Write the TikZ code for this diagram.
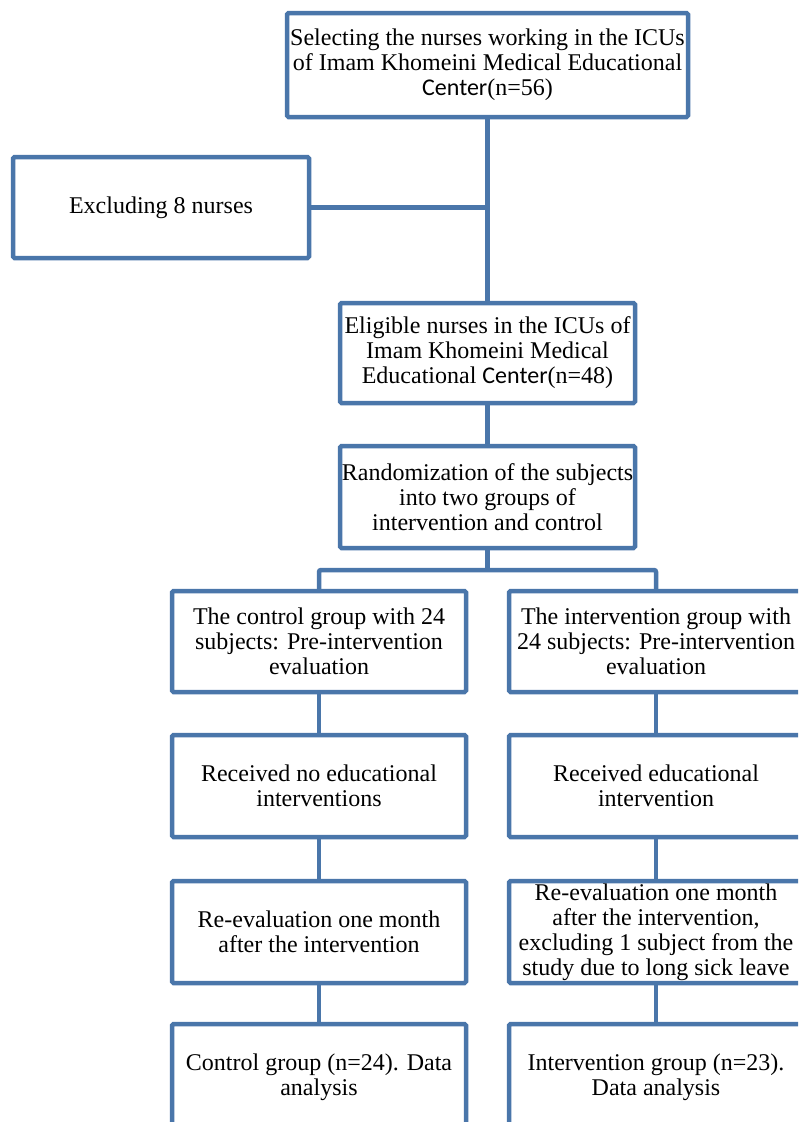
\documentclass[tikz,border=0pt]{standalone}
\usepackage{fontspec}
\setmainfont{Liberation Serif}
\newfontfamily\ctrfont{Carlito}
\definecolor{boxblue}{RGB}{74,118,170}
\begin{document}
\begin{tikzpicture}[x=1pt,y=-1pt,
  box/.style={draw=boxblue, line width=4.5pt, rounded corners=1.5pt, fill=white,
    inner sep=0pt, outer sep=0pt, align=center,
    font=\fontsize{24}{25}\selectfont},
  conn/.style={draw=boxblue, line width=4.5pt}]
\useasboundingbox (0,0) rectangle (798,1122);
\clip (0,0) rectangle (798,1122);
\fill[white] (0,0) rectangle (798,1122);

\node[box, minimum width=401pt, minimum height=104pt] (top) at (487.5,65)
  {Selecting the nurses working in the ICUs\\of Imam Khomeini Medical Educational\\{\ctrfont Center}(n=56)};
\node[box, minimum width=296pt, minimum height=101pt] (excl) at (161,207.5)
  {Excluding 8 nurses};
\node[box, minimum width=295pt, minimum height=100pt] (elig) at (487.5,353)
  {Eligible nurses in the ICUs of\\Imam Khomeini Medical\\Educational {\ctrfont Center}(n=48)};
\node[box, minimum width=295pt, minimum height=102pt] (rand) at (487.5,497)
  {Randomization of the subjects\\into two groups of\\intervention and control};

\node[box, minimum width=294pt, minimum height=101pt] (c1) at (319,641.5)
  {The control group with 24\\subjects: Pre-intervention\\evaluation};
\node[box, minimum width=294pt, minimum height=101pt] (i1) at (656,641.5)
  {The intervention group with\\24 subjects: Pre-intervention\\evaluation};

\node[box, minimum width=294pt, minimum height=102pt] (c2) at (319,786)
  {Received no educational\\interventions};
\node[box, minimum width=294pt, minimum height=102pt] (i2) at (656,786)
  {Received educational\\intervention};

\node[box, minimum width=294pt, minimum height=102pt] (c3) at (319,932)
  {Re-evaluation one month\\after the intervention};
\node[box, minimum width=294pt, minimum height=102pt] (i3) at (656,932)
  {Re-evaluation one month\\after the intervention,\\excluding 1 subject from the\\study due to long sick leave};

\node[box, minimum width=294pt, minimum height=106pt] (c4) at (319,1077)
  {Control group (n=24). Data\\analysis};
\node[box, minimum width=294pt, minimum height=106pt] (i4) at (656,1077)
  {Intervention group (n=23).\\Data analysis};

\draw[conn] (top.south) -- (elig.north);
\draw[conn] (excl.east) -- (top.south |- excl.east);
\draw[conn] (elig.south) -- (rand.north);
\coordinate (split) at ([yshift=-22pt]rand.south);
\draw[conn] (rand.south) -- (split);
\draw[conn, rounded corners=2pt] (c1.north) |- (split) -| (i1.north);
\draw[conn] (c1.south) -- (c2.north);
\draw[conn] (c2.south) -- (c3.north);
\draw[conn] (c3.south) -- (c4.north);
\draw[conn] (i1.south) -- (i2.north);
\draw[conn] (i2.south) -- (i3.north);
\draw[conn] (i3.south) -- (i4.north);
\end{tikzpicture}
\end{document}
